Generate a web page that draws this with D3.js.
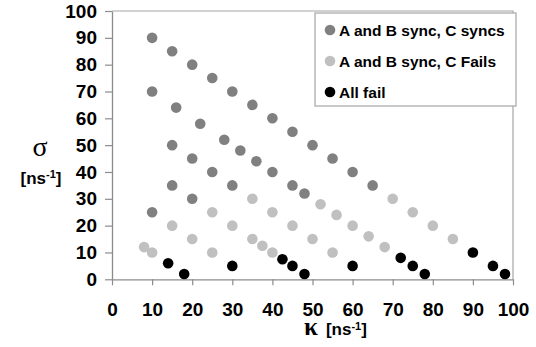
<!DOCTYPE html>
<html>
<head>
<meta charset="utf-8">
<script src="https://cdn.jsdelivr.net/npm/d3@7"></script>
<style>
	body { margin: 0; background: #fff; }
	text { font-family: Arial, "Liberation Sans", sans-serif; font-weight: bold; }
</style>
</head>
<body>
<div id="graph"></div>
<script>
// series names shown in the legend
var seriesNames = ["A and B sync, C syncs", "A and B sync, C Fails", "All fail"];

// [kappa, sigma] pairs
var syncKappa = [10, 15, 20, 25, 30, 35, 40, 45, 50, 55, 60, 65,
	10, 16, 22, 28, 32, 36, 40, 45, 48,
	15, 20, 25, 30,
	15, 20, 10];
var syncSigma = [90, 85, 80, 75, 70, 65, 60, 55, 50, 45, 40, 35,
	70, 64, 58, 52, 48, 44, 40, 35, 32,
	50, 45, 40, 35,
	35, 30, 25];

var failKappa = [35, 40, 45, 50, 55,
	52, 56, 60, 64, 68,
	70, 75, 80, 85,
	25, 30, 35, 37.5, 40,
	15, 20, 25,
	8, 10];
var failSigma = [30, 25, 20, 15, 10,
	28, 24, 20, 16, 12,
	30, 25, 20, 15,
	25, 20, 15, 12.5, 10,
	20, 15, 10,
	12, 10];

var allFailKappa = [14, 18, 30, 42.5, 45, 48, 60, 72, 75, 78, 90, 95, 98];
var allFailSigma = [6, 2, 5, 7.5, 5, 2, 5, 8, 5, 2, 10, 5, 2];

var xTicks = [0, 10, 20, 30, 40, 50, 60, 70, 80, 90, 100];
var yTicks = [0, 10, 20, 30, 40, 50, 60, 70, 80, 90, 100];

(function() {
	var width = 536, height = 347;
	var colors = ["#808080", "#c0c0c0", "#000000"];
	var r = 5.3;

	var svg = d3.select("#graph").append("svg")
		.attr("width", width)
		.attr("height", height);

	var x = d3.scaleLinear().domain([0, 100]).range([112, 513]);
	var y = d3.scaleLinear().domain([0, 100]).range([279.3, 11]);

	// plot frame (top and right edges, light gray)
	svg.append("path")
		.attr("d", "M" + x(0) + "," + y(100) + "H" + x(100) + "V" + y(0))
		.attr("fill", "none")
		.attr("stroke", "#a6a6a6")
		.attr("stroke-width", 1.2);

	// axes
	var yAxis = svg.append("g")
		.attr("transform", "translate(" + x(0) + ",0)")
		.call(d3.axisLeft(y).tickValues(yTicks).tickSize(7).tickSizeOuter(0).tickPadding(8));

	var xAxis = svg.append("g")
		.attr("transform", "translate(0," + y(0) + ")")
		.call(d3.axisBottom(x).tickValues(xTicks).tickSize(6).tickSizeOuter(0).tickPadding(17));

	[yAxis, xAxis].forEach(function(g) {
		g.select(".domain").attr("stroke", "#8c8c8c").attr("stroke-width", 1.3);
		g.selectAll(".tick line").attr("stroke", "#8c8c8c").attr("stroke-width", 1.2);
		g.selectAll(".tick text")
			.attr("fill", "#000")
			.style("font-size", "19px")
			.style("font-weight", "bold")
			.style("font-family", "Arial, 'Liberation Sans', sans-serif");
	});

	// series
	var series = [
		d3.zip(syncKappa, syncSigma),
		d3.zip(failKappa, failSigma),
		d3.zip(allFailKappa, allFailSigma)
	];

	series.forEach(function(pts, i) {
		svg.append("g").selectAll("circle")
			.data(pts)
			.enter()
			.append("circle")
			.attr("cx", function(d) { return x(d[0]); })
			.attr("cy", function(d) { return y(d[1]); })
			.attr("r", r)
			.attr("fill", colors[i]);
	});

	// axis titles
	var yTitle = svg.append("g");
	yTitle.append("text")
		.attr("x", 40).attr("y", 156)
		.attr("text-anchor", "middle")
		.style("font-family", "'Liberation Serif', 'DejaVu Serif', serif")
		.style("font-weight", "normal")
		.style("font-size", "28px")
		.text("σ");
	var yUnit = yTitle.append("text")
		.attr("x", 41).attr("y", 184)
		.attr("text-anchor", "middle")
		.style("font-size", "17px");
	yUnit.append("tspan").text("[ns");
	yUnit.append("tspan").attr("dy", -6).style("font-size", "11px").text("-1");
	yUnit.append("tspan").attr("dy", 6).text("]");

	var xTitle = svg.append("text")
		.attr("x", 304).attr("y", 335)
		.style("font-size", "17px");
	xTitle.append("tspan")
		.style("font-family", "'Liberation Serif', 'DejaVu Serif', serif")
		.style("font-size", "25px")
		.text("κ");
	xTitle.append("tspan").attr("dx", 8).text("[ns");
	xTitle.append("tspan").attr("dy", -5).style("font-size", "11px").text("-1");
	xTitle.append("tspan").attr("dy", 5).text("]");

	// legend
	var legend = svg.append("g");
	legend.append("rect")
		.attr("x", 315).attr("y", 13)
		.attr("width", 201).attr("height", 93)
		.attr("fill", "#fff")
		.attr("stroke", "#a6a6a6")
		.attr("stroke-width", 1.2);

	seriesNames.forEach(function(name, i) {
		var cy = 30 + i * 31;
		legend.append("circle")
			.attr("cx", 330).attr("cy", cy)
			.attr("r", r)
			.attr("fill", colors[i]);
		legend.append("text")
			.attr("x", 339).attr("y", cy + 5.5)
			.style("font-size", "15.5px")
			.text(name);
	});
})();
</script>
</body>
</html>
